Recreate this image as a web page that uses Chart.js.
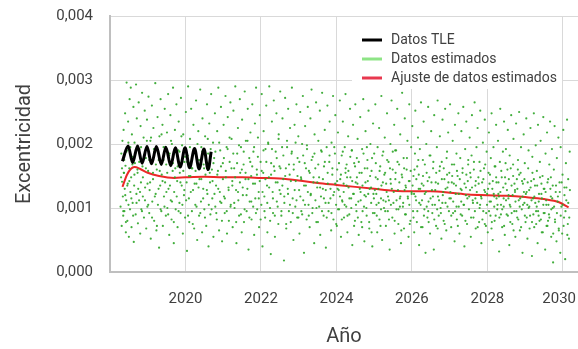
<!DOCTYPE html>
<html>
<head>
<meta charset="utf-8">
<script src="https://cdn.jsdelivr.net/npm/chart.js@4/dist/chart.umd.min.js"></script>
<style>
  html, body { margin: 0; background: #fff; overflow: hidden; }
  canvas { display: block; }
</style>
</head>
<body>
<canvas id="myChart" width="582" height="349"></canvas>
<script>
var FONT = "Roboto, 'Liberation Sans', sans-serif";
var TXT = '#404040';

// ticks of the x axis (years) and y axis
var yearTicks = [2020, 2022, 2024, 2026, 2028, 2030];
var eccTicks = [0, 0.001, 0.002, 0.003, 0.004];

var tleYear = [2018.33, 2018.48, 2018.60, 2018.73, 2018.85, 2018.98, 2019.10, 2019.23, 2019.36, 2019.48,
               2019.61, 2019.73, 2019.86, 2019.99, 2020.11, 2020.24, 2020.36, 2020.49, 2020.60, 2020.68];
var tleEcc  = [0.00173, 0.00197, 0.00171, 0.00197, 0.00170, 0.00196, 0.00169, 0.00196, 0.00168, 0.00195,
               0.00166, 0.00194, 0.00164, 0.00194, 0.00163, 0.00193, 0.00161, 0.00192, 0.00160, 0.00188];

// Ajuste de datos estimados (red fit)
var fitYear = [2018.33, 2018.45, 2018.55, 2018.65, 2018.80, 2019.00, 2019.30, 2019.70, 2020.00, 2020.50,
               2021.00, 2021.50, 2022.00, 2022.50, 2023.00, 2023.50, 2024.00, 2024.50, 2025.00, 2025.50,
               2026.00, 2026.50, 2027.00, 2027.50, 2028.00, 2028.50, 2029.00, 2029.50, 2029.90, 2030.15];
var fitEcc  = [0.00133, 0.00152, 0.00161, 0.00164, 0.00161, 0.00155, 0.00150, 0.00147, 0.00148, 0.00149,
               0.00148, 0.00148, 0.00147, 0.00146, 0.00143, 0.00139, 0.00136, 0.00133, 0.00130, 0.00127,
               0.00126, 0.00126, 0.00124, 0.00121, 0.00120, 0.00119, 0.00117, 0.00114, 0.00109, 0.00101];

// Datos estimados (green dots) [year, eccentricity] - full spread
var estimadosA = [
[2018.28,0.00102],[2018.30,0.00185],[2018.31,0.00072],[2018.32,0.00141],[2018.33,0.00205],[2018.34,0.00118],[2018.35,0.00088],[2018.36,0.00222],[2018.37,0.00155],[2018.38,0.00095],[2018.39,0.00130],[2018.40,0.00248],[2018.41,0.00166],[2018.42,0.00062],[2018.43,0.00112],[2018.44,0.00296],[2018.45,0.00190],[2018.46,0.00080],[2018.47,0.00138],[2018.48,0.00235],[2018.49,0.00105],[2018.50,0.00055],
[2018.51,0.00162],[2018.52,0.00270],[2018.53,0.00098],[2018.54,0.00125],[2018.55,0.00288],[2018.56,0.00148],[2018.57,0.00070],[2018.58,0.00215],[2018.59,0.00180],[2018.60,0.00108],[2018.62,0.00258],[2018.63,0.00047],[2018.64,0.00135],[2018.65,0.00202],[2018.66,0.00170],[2018.68,0.00090],[2018.69,0.00293],[2018.70,0.00122],[2018.71,0.00240],[2018.73,0.00155],[2018.74,0.00076],
[2018.76,0.00265],[2018.77,0.00112],[2018.78,0.00192],[2018.80,0.00060],[2018.81,0.00228],[2018.82,0.00140],[2018.83,0.00098],[2018.85,0.00280],[2018.86,0.00165],[2018.87,0.00118],[2018.89,0.00210],[2018.90,0.00085],[2018.92,0.00252],[2018.93,0.00132],[2018.95,0.00178],[2018.96,0.00068],[2018.98,0.00238],[2018.99,0.00102],
[2019.01,0.00158],[2019.02,0.00274],[2019.04,0.00092],[2019.05,0.00128],[2019.07,0.00205],[2019.08,0.00052],[2019.09,0.00170],[2019.11,0.00260],[2019.12,0.00110],[2019.14,0.00145],[2019.15,0.00225],[2019.17,0.00080],[2019.18,0.00188],[2019.20,0.00295],[2019.21,0.00122],[2019.23,0.00065],[2019.24,0.00160],
[2019.26,0.00242],[2019.27,0.00105],[2019.29,0.00175],[2019.30,0.00038],[2019.31,0.00212],[2019.33,0.00135],[2019.34,0.00270],[2019.36,0.00095],[2019.37,0.00152],[2019.39,0.00230],[2019.40,0.00072],[2019.42,0.00195],[2019.43,0.00118],[2019.45,0.00255],[2019.46,0.00140],[2019.48,0.00088],[2019.49,0.00168],
[2019.51,0.00218],[2019.52,0.00100],[2019.54,0.00278],[2019.55,0.00130],[2019.57,0.00058],[2019.58,0.00185],[2019.60,0.00245],[2019.61,0.00112],[2019.63,0.00082],[2019.64,0.00200],[2019.66,0.00158],[2019.67,0.00288],[2019.69,0.00045],[2019.70,0.00125],[2019.72,0.00222],[2019.73,0.00162],[2019.74,0.00098],
[2019.76,0.00262],[2019.78,0.00142],[2019.79,0.00070],[2019.81,0.00190],[2019.82,0.00235],[2019.84,0.00108],[2019.85,0.00155],[2019.87,0.00092],[2019.88,0.00272],[2019.90,0.00135],[2019.91,0.00198],[2019.93,0.00060],[2019.94,0.00215],[2019.96,0.00120],[2019.97,0.00172],[2019.99,0.00085],
[2020.01,0.00250],[2020.03,0.00140],[2020.04,0.00033],[2020.06,0.00182],[2020.07,0.00290],[2020.09,0.00115],[2020.10,0.00078],[2020.12,0.00208],[2020.13,0.00150],[2020.15,0.00255],[2020.17,0.00095],[2020.18,0.00162],[2020.20,0.00128],[2020.21,0.00230],[2020.23,0.00068],[2020.24,0.00192],
[2020.26,0.00105],[2020.28,0.00268],[2020.29,0.00138],[2020.31,0.00050],[2020.33,0.00175],[2020.34,0.00220],[2020.36,0.00088],[2020.37,0.00145],[2020.39,0.00285],[2020.41,0.00110],[2020.42,0.00195],[2020.44,0.00062],[2020.45,0.00240],[2020.47,0.00130],[2020.48,0.00168],[2020.50,0.00098],
[2020.52,0.00212],[2020.53,0.00152],[2020.55,0.00072],[2020.57,0.00262],[2020.58,0.00122],[2020.60,0.00185],[2020.61,0.00040],[2020.63,0.00232],[2020.65,0.00140],[2020.66,0.00090],[2020.68,0.00278],[2020.70,0.00160],[2020.71,0.00115],[2020.73,0.00202],[2020.74,0.00055],
[2020.76,0.00178],[2020.78,0.00248],[2020.79,0.00102],[2020.81,0.00135],[2020.83,0.00082],[2020.84,0.00220],[2020.86,0.00158],[2020.87,0.00288],[2020.89,0.00065],[2020.91,0.00125],[2020.92,0.00190],[2020.94,0.00258],[2020.95,0.00108],[2020.97,0.00048],[2020.99,0.00170],
[2021.01,0.00230],[2021.02,0.00118],[2021.04,0.00092],[2021.06,0.00275],[2021.07,0.00148],[2021.09,0.00195],[2021.10,0.00060],[2021.12,0.00242],[2021.14,0.00132],[2021.15,0.00080],[2021.17,0.00172],[2021.19,0.00265],[2021.20,0.00105],[2021.22,0.00208],[2021.24,0.00142],
[2021.25,0.00070],[2021.27,0.00252],[2021.29,0.00162],[2021.30,0.00100],[2021.32,0.00290],[2021.34,0.00128],[2021.35,0.00045],[2021.37,0.00185],[2021.39,0.00225],[2021.40,0.00112],[2021.42,0.00088],[2021.44,0.00270],[2021.45,0.00155],[2021.47,0.00195],[2021.49,0.00062],
[2021.50,0.00238],[2021.52,0.00120],[2021.54,0.00168],[2021.55,0.00078],[2021.57,0.00282],[2021.59,0.00145],[2021.60,0.00205],[2021.62,0.00095],[2021.64,0.00130],[2021.65,0.00255],[2021.67,0.00035],[2021.69,0.00178],[2021.70,0.00110],[2021.72,0.00218],[2021.74,0.00150],
[2021.75,0.00082],[2021.77,0.00262],[2021.79,0.00138],[2021.80,0.00188],[2021.82,0.00058],[2021.84,0.00232],[2021.85,0.00115],[2021.87,0.00288],[2021.89,0.00160],[2021.90,0.00098],[2021.92,0.00210],[2021.94,0.00125],[2021.95,0.00070],[2021.97,0.00245],[2021.99,0.00172],
[2022.01,0.00105],[2022.02,0.00278],[2022.04,0.00040],[2022.06,0.00155],[2022.07,0.00220],[2022.09,0.00118],[2022.11,0.00085],[2022.12,0.00192],[2022.14,0.00260],[2022.16,0.00135],[2022.17,0.00062],[2022.19,0.00202],[2022.21,0.00148],[2022.22,0.00290],[2022.24,0.00100],
[2022.26,0.00028],[2022.27,0.00170],[2022.29,0.00235],[2022.31,0.00125],[2022.32,0.00092],[2022.34,0.00268],[2022.36,0.00158],[2022.37,0.00055],[2022.39,0.00188],[2022.41,0.00248],[2022.42,0.00110],[2022.44,0.00140],[2022.46,0.00075],[2022.47,0.00215],[2022.49,0.00165],
[2022.51,0.00282],[2022.52,0.00122],[2022.54,0.00088],[2022.56,0.00195],[2022.57,0.00240],[2022.59,0.00145],[2022.61,0.00018],[2022.62,0.00108],[2022.64,0.00272],[2022.66,0.00162],[2022.67,0.00068],[2022.69,0.00205],[2022.71,0.00130],[2022.72,0.00255],[2022.74,0.00095],
[2022.76,0.00152],[2022.77,0.00225],[2022.79,0.00078],[2022.81,0.00185],[2022.82,0.00288],[2022.84,0.00115],[2022.86,0.00050],[2022.87,0.00168],[2022.89,0.00230],[2022.91,0.00102],[2022.92,0.00142],[2022.94,0.00262],[2022.96,0.00085],[2022.97,0.00178],[2022.99,0.00212],
[2023.01,0.00128],[2023.02,0.00060],[2023.04,0.00250],[2023.06,0.00148],[2023.07,0.00095],[2023.09,0.00200],[2023.11,0.00275],[2023.12,0.00112],[2023.14,0.00030],[2023.16,0.00170],[2023.17,0.00228],[2023.19,0.00135],[2023.21,0.00082],[2023.22,0.00192],[2023.24,0.00258],
[2023.26,0.00105],[2023.27,0.00158],[2023.29,0.00070],[2023.31,0.00240],[2023.32,0.00122],[2023.34,0.00285],[2023.36,0.00092],[2023.37,0.00180],[2023.39,0.00140],[2023.41,0.00045],[2023.42,0.00215],[2023.44,0.00162],[2023.46,0.00265],[2023.47,0.00100],[2023.49,0.00132],
[2023.51,0.00078],[2023.52,0.00205],[2023.54,0.00148],[2023.56,0.00252],[2023.57,0.00058],[2023.59,0.00118],[2023.61,0.00188],[2023.62,0.00280],[2023.64,0.00130],[2023.66,0.00088],[2023.67,0.00165],[2023.69,0.00222],[2023.71,0.00108],[2023.72,0.00038],[2023.74,0.00195],
[2023.76,0.00260],[2023.77,0.00138],[2023.79,0.00095],[2023.81,0.00172],[2023.82,0.00235],[2023.84,0.00115],[2023.86,0.00065],[2023.87,0.00202],[2023.89,0.00152],[2023.91,0.00275],[2023.92,0.00082],[2023.94,0.00125],[2023.96,0.00185],[2023.97,0.00245],[2023.99,0.00105],
[2024.01,0.00072],[2024.02,0.00160],[2024.04,0.00218],[2024.06,0.00128],[2024.07,0.00098],[2024.09,0.00268],[2024.10,0.00145],[2024.12,0.00055],[2024.14,0.00182],[2024.15,0.00112],[2024.17,0.00235],[2024.19,0.00138],[2024.20,0.00085],[2024.22,0.00195],[2024.24,0.00155],[2024.24,0.00278],
[2024.26,0.00102],[2024.27,0.00168],[2024.29,0.00062],[2024.31,0.00212],[2024.32,0.00132],[2024.34,0.00090],[2024.36,0.00255],[2024.37,0.00148],[2024.39,0.00115],[2024.41,0.00190],[2024.42,0.00042],[2024.44,0.00230],[2024.46,0.00122],[2024.47,0.00170],[2024.49,0.00080],[2024.50,0.00262],
[2024.51,0.00140],[2024.53,0.00095],[2024.54,0.00178],[2024.56,0.00208],[2024.58,0.00110],[2024.59,0.00058],[2024.61,0.00155],[2024.63,0.00242],[2024.64,0.00125],[2024.66,0.00078],[2024.68,0.00192],[2024.69,0.00135],[2024.71,0.00270],[2024.73,0.00102],[2024.74,0.00048],[2024.75,0.00162],
[2024.77,0.00220],[2024.78,0.00118],[2024.80,0.00088],[2024.82,0.00175],[2024.83,0.00142],[2024.85,0.00252],[2024.87,0.00068],[2024.88,0.00130],[2024.90,0.00200],[2024.92,0.00108],[2024.93,0.00158],[2024.95,0.00040],[2024.97,0.00232],[2024.98,0.00122],[2025.00,0.00185],
[2025.01,0.00092],[2025.03,0.00262],[2025.04,0.00148],[2025.06,0.00105],[2025.08,0.00062],[2025.09,0.00195],[2025.11,0.00130],[2025.13,0.00225],[2025.14,0.00082],[2025.16,0.00165],[2025.18,0.00115],[2025.19,0.00275],[2025.21,0.00050],[2025.23,0.00140],[2025.24,0.00188],
[2025.26,0.00100],[2025.28,0.00210],[2025.29,0.00155],[2025.31,0.00072],[2025.33,0.00125],[2025.34,0.00248],[2025.36,0.00095],[2025.38,0.00172],[2025.39,0.00112],[2025.41,0.00035],[2025.43,0.00200],[2025.44,0.00138],[2025.46,0.00268],[2025.48,0.00085],[2025.49,0.00160],
[2025.51,0.00108],[2025.53,0.00230],[2025.54,0.00060],[2025.56,0.00145],[2025.58,0.00190],[2025.59,0.00098],[2025.61,0.00255],[2025.63,0.00128],[2025.64,0.00075],[2025.66,0.00168],[2025.68,0.00115],[2025.69,0.00215],[2025.71,0.00045],[2025.73,0.00152],[2025.74,0.00280],
[2025.76,0.00102],[2025.78,0.00178],[2025.79,0.00068],[2025.81,0.00240],[2025.83,0.00135],[2025.84,0.00090],[2025.86,0.00160],[2025.88,0.00205],[2025.89,0.00118],[2025.91,0.00055],[2025.93,0.00262],[2025.94,0.00142],[2025.96,0.00080],[2025.98,0.00195],[2025.99,0.00125],
[2026.01,0.00228],[2026.03,0.00095],[2026.04,0.00150],[2026.06,0.00062],[2026.08,0.00185],[2026.09,0.00252],[2026.11,0.00112],[2026.13,0.00078],[2026.14,0.00165],[2026.16,0.00210],[2026.18,0.00130],[2026.19,0.00042],[2026.21,0.00192],[2026.23,0.00105],[2026.24,0.00265],
[2026.26,0.00138],[2026.28,0.00070],[2026.29,0.00175],[2026.31,0.00235],[2026.33,0.00098],[2026.34,0.00122],[2026.36,0.00030],[2026.38,0.00200],[2026.39,0.00155],[2026.41,0.00085],[2026.43,0.00258],[2026.44,0.00110],[2026.46,0.00148],[2026.48,0.00060],[2026.49,0.00182],
[2026.51,0.00220],[2026.53,0.00128],[2026.54,0.00092],[2026.56,0.00162],[2026.58,0.00035],[2026.59,0.00245],[2026.61,0.00105],[2026.63,0.00140],[2026.64,0.00072],[2026.66,0.00195],[2026.68,0.00268],[2026.69,0.00118],[2026.71,0.00088],[2026.73,0.00158],[2026.74,0.00212],
[2026.76,0.00100],[2026.78,0.00052],[2026.79,0.00172],[2026.81,0.00238],[2026.83,0.00125],[2026.84,0.00080],[2026.86,0.00145],[2026.88,0.00255],[2026.89,0.00108],[2026.91,0.00065],[2026.93,0.00188],[2026.94,0.00132],[2026.96,0.00218],[2026.98,0.00095],[2026.99,0.00155],
[2027.01,0.00262],[2027.03,0.00115],[2027.04,0.00070],[2027.06,0.00168],[2027.08,0.00205],[2027.09,0.00092],[2027.11,0.00138],[2027.13,0.00048],[2027.14,0.00230],[2027.16,0.00122],[2027.18,0.00185],[2027.19,0.00082],[2027.21,0.00150],[2027.23,0.00248],[2027.24,0.00102],
[2027.26,0.00060],[2027.28,0.00178],[2027.29,0.00130],[2027.31,0.00220],[2027.33,0.00088],[2027.34,0.00155],[2027.36,0.00258],[2027.38,0.00105],[2027.39,0.00040],[2027.41,0.00192],[2027.43,0.00120],[2027.44,0.00235],[2027.46,0.00075],[2027.48,0.00142],[2027.49,0.00168],
[2027.51,0.00098],[2027.53,0.00210],[2027.54,0.00128],[2027.56,0.00055],[2027.58,0.00182],[2027.59,0.00245],[2027.61,0.00112],[2027.63,0.00085],[2027.64,0.00160],[2027.66,0.00265],[2027.68,0.00135],[2027.69,0.00068],[2027.71,0.00195],[2027.73,0.00108],[2027.74,0.00225],
[2027.76,0.00148],[2027.78,0.00078],[2027.79,0.00172],[2027.81,0.00252],[2027.83,0.00118],[2027.84,0.00045],[2027.86,0.00140],[2027.88,0.00202],[2027.89,0.00095],[2027.91,0.00162],[2027.93,0.00238],[2027.94,0.00125],[2027.96,0.00072],[2027.98,0.00188],[2027.99,0.00105],
[2028.01,0.00062],[2028.03,0.00155],[2028.04,0.00218],[2028.06,0.00110],[2028.08,0.00088],[2028.09,0.00178],[2028.11,0.00248],[2028.13,0.00130],[2028.14,0.00050],[2028.16,0.00195],[2028.18,0.00118],[2028.19,0.00080],[2028.21,0.00165],[2028.23,0.00230],[2028.24,0.00140],
[2028.26,0.00098],[2028.28,0.00205],[2028.29,0.00122],[2028.31,0.00032],[2028.33,0.00172],[2028.34,0.00255],[2028.36,0.00105],[2028.38,0.00148],[2028.39,0.00070],[2028.41,0.00188],[2028.43,0.00115],[2028.44,0.00235],[2028.46,0.00058],[2028.48,0.00138],[2028.49,0.00192],
[2028.51,0.00090],[2028.53,0.00160],[2028.54,0.00222],[2028.56,0.00120],[2028.58,0.00042],[2028.59,0.00182],[2028.61,0.00102],[2028.63,0.00245],[2028.64,0.00135],[2028.66,0.00075],[2028.68,0.00168],[2028.69,0.00208],[2028.71,0.00095],[2028.73,0.00128],[2028.74,0.00055],
[2028.76,0.00232],[2028.78,0.00145],[2028.79,0.00085],[2028.81,0.00175],[2028.83,0.00112],[2028.84,0.00250],[2028.86,0.00065],[2028.88,0.00155],[2028.89,0.00195],[2028.91,0.00098],[2028.93,0.00030],[2028.94,0.00138],[2028.96,0.00215],[2028.98,0.00108],[2028.99,0.00170],
[2029.01,0.00078],[2029.03,0.00240],[2029.04,0.00125],[2029.06,0.00052],[2029.08,0.00162],[2029.09,0.00190],[2029.11,0.00102],[2029.13,0.00088],[2029.14,0.00225],[2029.16,0.00142],[2029.18,0.00025],[2029.19,0.00180],[2029.21,0.00115],[2029.23,0.00248],[2029.24,0.00070],
[2029.26,0.00135],[2029.28,0.00198],[2029.29,0.00095],[2029.31,0.00158],[2029.33,0.00045],[2029.34,0.00230],[2029.36,0.00110],[2029.38,0.00080],[2029.39,0.00172],[2029.41,0.00205],[2029.43,0.00122],[2029.44,0.00062],[2029.46,0.00150],[2029.48,0.00242],[2029.49,0.00092],
[2029.51,0.00130],[2029.53,0.00035],[2029.54,0.00185],[2029.56,0.00105],[2029.58,0.00218],[2029.59,0.00072],[2029.61,0.00145],[2029.63,0.00090],[2029.64,0.00168],[2029.66,0.00235],[2029.68,0.00118],[2029.69,0.00055],[2029.71,0.00192],[2029.73,0.00100],[2029.74,0.00015],
[2029.76,0.00160],[2029.78,0.00228],[2029.79,0.00082],[2029.81,0.00125],[2029.83,0.00048],[2029.84,0.00178],[2029.86,0.00110],[2029.88,0.00210],[2029.89,0.00068],[2029.91,0.00140],[2029.93,0.00030],[2029.94,0.00195],[2029.96,0.00102],[2029.98,0.00060],[2029.99,0.00152],
[2030.01,0.00222],[2030.03,0.00085],[2030.04,0.00132],[2030.06,0.00020],[2030.08,0.00170],[2030.09,0.00112],[2030.11,0.00238],[2030.13,0.00075],[2030.14,0.00145],[2030.16,0.00052],[2030.18,0.00188]
];

// Datos estimados - denser central band
var estimadosB = [
[2018.293,0.00148],[2018.318,0.00162],[2018.352,0.00095],[2018.377,0.00175],[2018.404,0.00120],[2018.433,0.00188],[2018.458,0.00135],[2018.487,0.00202],[2018.366,0.00155],[2018.421,0.00078],
[2018.512,0.00142],[2018.538,0.00195],[2018.566,0.00115],[2018.594,0.00168],[2018.613,0.00088],[2018.647,0.00152],[2018.672,0.00185],[2018.703,0.00108],[2018.727,0.00160],[2018.748,0.00130],
[2018.774,0.00172],[2018.796,0.00125],[2018.823,0.00195],[2018.847,0.00095],[2018.872,0.00148],[2018.903,0.00180],[2018.927,0.00112],[2018.951,0.00162],[2018.977,0.00205],[2018.994,0.00138],
[2019.013,0.00105],[2019.038,0.00175],[2019.062,0.00140],[2019.087,0.00210],[2019.114,0.00085],[2019.139,0.00155],[2019.163,0.00192],[2019.188,0.00118],[2019.216,0.00168],[2019.243,0.00072],
[2019.266,0.00188],[2019.287,0.00130],[2019.318,0.00158],[2019.341,0.00098],[2019.366,0.00215],[2019.392,0.00142],[2019.417,0.00175],[2019.443,0.00102],[2019.468,0.00195],[2019.494,0.00125],
[2019.516,0.00155],[2019.541,0.00090],[2019.567,0.00182],[2019.589,0.00135],[2019.617,0.00205],[2019.643,0.00110],[2019.668,0.00170],[2019.691,0.00078],[2019.718,0.00148],[2019.744,0.00192],
[2019.768,0.00118],[2019.793,0.00165],[2019.817,0.00095],[2019.843,0.00188],[2019.866,0.00140],[2019.892,0.00212],[2019.918,0.00105],[2019.942,0.00158],[2019.968,0.00128],[2019.991,0.00180],
[2020.017,0.00112],[2020.043,0.00172],[2020.068,0.00088],[2020.092,0.00150],[2020.118,0.00195],[2020.141,0.00125],[2020.166,0.00162],[2020.193,0.00075],[2020.219,0.00185],[2020.242,0.00138],
[2020.267,0.00158],[2020.293,0.00102],[2020.318,0.00200],[2020.346,0.00132],[2020.371,0.00175],[2020.393,0.00092],[2020.419,0.00145],[2020.443,0.00188],[2020.468,0.00115],[2020.493,0.00162],
[2020.516,0.00085],[2020.542,0.00178],[2020.566,0.00128],[2020.591,0.00208],[2020.618,0.00105],[2020.643,0.00155],[2020.668,0.00192],[2020.693,0.00098],[2020.717,0.00142],[2020.741,0.00170],
[2020.768,0.00122],[2020.792,0.00188],[2020.816,0.00092],[2020.843,0.00152],[2020.868,0.00130],[2020.893,0.00202],[2020.917,0.00110],[2020.941,0.00165],[2020.966,0.00080],[2020.992,0.00145],
[2021.018,0.00178],[2021.043,0.00115],[2021.068,0.00158],[2021.093,0.00095],[2021.117,0.00192],[2021.143,0.00128],[2021.168,0.00210],[2021.193,0.00102],[2021.218,0.00162],[2021.241,0.00135],
[2021.266,0.00185],[2021.291,0.00108],[2021.316,0.00148],[2021.343,0.00078],[2021.367,0.00170],[2021.392,0.00125],[2021.418,0.00198],[2021.442,0.00140],[2021.468,0.00090],[2021.493,0.00160],
[2021.517,0.00132],[2021.543,0.00188],[2021.566,0.00098],[2021.592,0.00155],[2021.617,0.00120],[2021.643,0.00205],[2021.668,0.00145],[2021.693,0.00085],[2021.717,0.00172],[2021.743,0.00110],
[2021.768,0.00165],[2021.793,0.00102],[2021.818,0.00195],[2021.842,0.00138],[2021.867,0.00092],[2021.893,0.00152],[2021.918,0.00180],[2021.942,0.00115],[2021.967,0.00142],[2021.991,0.00082],
[2022.018,0.00158],[2022.042,0.00125],[2022.067,0.00190],[2022.093,0.00095],[2022.118,0.00145],[2022.142,0.00172],[2022.167,0.00108],[2022.193,0.00200],[2022.217,0.00132],[2022.243,0.00080],
[2022.268,0.00152],[2022.292,0.00192],[2022.317,0.00115],[2022.343,0.00165],[2022.367,0.00088],[2022.392,0.00140],[2022.418,0.00178],[2022.443,0.00102],[2022.467,0.00208],[2022.492,0.00128],
[2022.517,0.00162],[2022.542,0.00095],[2022.567,0.00135],[2022.593,0.00182],[2022.618,0.00118],[2022.642,0.00150],[2022.668,0.00075],[2022.692,0.00195],[2022.717,0.00122],[2022.743,0.00168],
[2022.768,0.00105],[2022.792,0.00142],[2022.818,0.00188],[2022.843,0.00092],[2022.867,0.00160],[2022.893,0.00128],[2022.917,0.00202],[2022.942,0.00112],[2022.968,0.00150],[2022.992,0.00085],
[2023.017,0.00172],[2023.043,0.00118],[2023.067,0.00145],[2023.092,0.00090],[2023.118,0.00182],[2023.142,0.00135],[2023.167,0.00105],[2023.193,0.00162],[2023.218,0.00198],[2023.242,0.00125],
[2023.267,0.00088],[2023.292,0.00155],[2023.317,0.00120],[2023.342,0.00175],[2023.368,0.00100],[2023.393,0.00148],[2023.417,0.00185],[2023.443,0.00112],[2023.467,0.00078],[2023.492,0.00140],
[2023.518,0.00168],[2023.542,0.00102],[2023.567,0.00132],[2023.593,0.00190],[2023.617,0.00095],[2023.642,0.00145],[2023.668,0.00115],[2023.692,0.00172],[2023.717,0.00128],[2023.742,0.00085],
[2023.767,0.00155],[2023.793,0.00108],[2023.817,0.00182],[2023.842,0.00130],[2023.868,0.00092],[2023.892,0.00162],[2023.917,0.00120],[2023.942,0.00195],[2023.967,0.00138],[2023.993,0.00075],
[2024.018,0.00142],[2024.042,0.00098],[2024.067,0.00170],[2024.093,0.00118],[2024.118,0.00152],[2024.142,0.00082],[2024.168,0.00188],[2024.192,0.00125],[2024.217,0.00105],[2024.243,0.00162],[2024.031,0.00130],[2024.158,0.00110],
[2024.268,0.00135],[2024.292,0.00088],[2024.317,0.00158],[2024.343,0.00115],[2024.367,0.00180],[2024.392,0.00100],[2024.418,0.00142],[2024.442,0.00122],[2024.467,0.00072],[2024.493,0.00165],[2024.281,0.00148],[2024.405,0.00190],
[2024.517,0.00105],[2024.542,0.00148],[2024.567,0.00085],[2024.592,0.00172],[2024.618,0.00130],[2024.642,0.00112],[2024.668,0.00155],[2024.693,0.00095],[2024.717,0.00185],[2024.742,0.00120],[2024.556,0.00138],[2024.681,0.00070],
[2024.768,0.00140],[2024.793,0.00100],[2024.818,0.00162],[2024.842,0.00122],[2024.867,0.00078],[2024.892,0.00150],[2024.917,0.00132],[2024.943,0.00178],[2024.967,0.00092],[2024.992,0.00115],[2024.806,0.00195],[2024.931,0.00062],
[2025.017,0.00128],[2025.043,0.00170],[2025.068,0.00088],[2025.092,0.00145],[2025.118,0.00108],[2025.143,0.00158],[2025.167,0.00072],[2025.192,0.00135],[2025.218,0.00182],[2025.242,0.00112],[2025.056,0.00122],[2025.181,0.00098],
[2025.268,0.00152],[2025.292,0.00095],[2025.317,0.00138],[2025.343,0.00175],[2025.367,0.00118],[2025.392,0.00082],[2025.418,0.00162],[2025.443,0.00105],[2025.467,0.00130],[2025.492,0.00188],[2025.306,0.00110],[2025.431,0.00145],
[2025.517,0.00125],[2025.543,0.00080],[2025.567,0.00155],[2025.592,0.00112],[2025.618,0.00172],[2025.642,0.00098],[2025.667,0.00140],[2025.693,0.00118],[2025.718,0.00065],[2025.742,0.00148],[2025.556,0.00190],[2025.681,0.00102],
[2025.768,0.00108],[2025.793,0.00162],[2025.817,0.00090],[2025.842,0.00132],[2025.868,0.00178],[2025.893,0.00115],[2025.918,0.00142],[2025.942,0.00075],[2025.967,0.00158],[2025.992,0.00122],[2025.806,0.00128],[2025.931,0.00105],
[2026.018,0.00135],[2026.042,0.00085],[2026.068,0.00160],[2026.093,0.00118],[2026.117,0.00145],[2026.143,0.00095],[2026.168,0.00175],[2026.193,0.00108],[2026.218,0.00130],[2026.242,0.00070],[2026.056,0.00122],[2026.181,0.00152],
[2026.267,0.00112],[2026.293,0.00150],[2026.318,0.00088],[2026.342,0.00168],[2026.368,0.00125],[2026.392,0.00102],[2026.417,0.00142],[2026.443,0.00078],[2026.468,0.00182],[2026.493,0.00115],[2026.306,0.00135],[2026.431,0.00095],
[2026.518,0.00140],[2026.542,0.00105],[2026.567,0.00172],[2026.592,0.00082],[2026.617,0.00128],[2026.643,0.00155],[2026.668,0.00098],[2026.693,0.00138],[2026.718,0.00112],[2026.742,0.00165],[2026.556,0.00118],[2026.681,0.00068],
[2026.767,0.00092],[2026.792,0.00145],[2026.818,0.00120],[2026.843,0.00162],[2026.868,0.00075],[2026.892,0.00130],[2026.918,0.00178],[2026.942,0.00102],[2026.967,0.00140],[2026.993,0.00115],[2026.806,0.00108],[2026.931,0.00152],
[2027.018,0.00125],[2027.042,0.00088],[2027.067,0.00150],[2027.093,0.00110],[2027.118,0.00168],[2027.143,0.00095],[2027.168,0.00135],[2027.193,0.00158],[2027.217,0.00072],[2027.243,0.00122],[2027.056,0.00140],[2027.181,0.00102],
[2027.268,0.00145],[2027.292,0.00090],[2027.318,0.00128],[2027.342,0.00162],[2027.367,0.00105],[2027.393,0.00138],[2027.417,0.00080],[2027.442,0.00152],[2027.468,0.00115],[2027.492,0.00175],[2027.306,0.00110],[2027.431,0.00132],
[2027.517,0.00118],[2027.543,0.00155],[2027.567,0.00085],[2027.592,0.00132],[2027.617,0.00108],[2027.643,0.00172],[2027.668,0.00095],[2027.692,0.00142],[2027.718,0.00125],[2027.742,0.00070],[2027.556,0.00148],[2027.681,0.00115],
[2027.768,0.00138],[2027.793,0.00100],[2027.817,0.00158],[2027.842,0.00115],[2027.867,0.00082],[2027.893,0.00145],[2027.918,0.00128],[2027.942,0.00168],[2027.967,0.00092],[2027.992,0.00122],[2027.806,0.00105],[2027.931,0.00075],
[2028.017,0.00130],[2028.042,0.00095],[2028.068,0.00152],[2028.093,0.00110],[2028.117,0.00078],[2028.143,0.00142],[2028.167,0.00122],[2028.192,0.00165],[2028.218,0.00088],[2028.242,0.00115],[2028.056,0.00138],[2028.181,0.00102],[2028.108,0.00068],[2028.231,0.00148],
[2028.268,0.00105],[2028.292,0.00140],[2028.317,0.00085],[2028.343,0.00125],[2028.367,0.00158],[2028.392,0.00098],[2028.418,0.00132],[2028.442,0.00072],[2028.467,0.00148],[2028.493,0.00112],[2028.306,0.00118],[2028.431,0.00102],[2028.358,0.00090],[2028.481,0.00170],
[2028.517,0.00128],[2028.542,0.00088],[2028.567,0.00145],[2028.592,0.00105],[2028.617,0.00162],[2028.642,0.00092],[2028.668,0.00120],[2028.693,0.00065],[2028.717,0.00138],[2028.743,0.00110],[2028.556,0.00115],[2028.681,0.00150],[2028.606,0.00078],[2028.731,0.00125],
[2028.767,0.00095],[2028.793,0.00130],[2028.818,0.00082],[2028.842,0.00152],[2028.868,0.00115],[2028.892,0.00070],[2028.917,0.00142],[2028.943,0.00105],[2028.967,0.00125],[2028.992,0.00088],[2028.806,0.00160],[2028.931,0.00118],[2028.856,0.00102],[2028.981,0.00145],
[2029.018,0.00122],[2029.042,0.00085],[2029.067,0.00140],[2029.092,0.00100],[2029.118,0.00068],[2029.143,0.00132],[2029.168,0.00112],[2029.193,0.00155],[2029.217,0.00090],[2029.243,0.00118],[2029.056,0.00105],[2029.181,0.00078],[2029.106,0.00128],[2029.231,0.00145],
[2029.268,0.00108],[2029.292,0.00075],[2029.318,0.00135],[2029.342,0.00095],[2029.367,0.00122],[2029.393,0.00148],[2029.417,0.00082],[2029.442,0.00115],[2029.468,0.00062],[2029.492,0.00130],[2029.306,0.00102],[2029.431,0.00138],[2029.356,0.00088],[2029.481,0.00105],
[2029.517,0.00092],[2029.542,0.00125],[2029.567,0.00072],[2029.592,0.00140],[2029.617,0.00105],[2029.642,0.00085],[2029.668,0.00130],[2029.692,0.00098],[2029.717,0.00115],[2029.743,0.00060],[2029.556,0.00112],[2029.681,0.00148],[2029.606,0.00080],[2029.731,0.00135],
[2029.767,0.00102],[2029.792,0.00078],[2029.817,0.00135],[2029.842,0.00092],[2029.868,0.00118],[2029.892,0.00065],[2029.917,0.00125],[2029.942,0.00088],[2029.967,0.00140],[2029.992,0.00105],[2030.018,0.00072],[2030.042,0.00120],[2030.068,0.00095],[2030.093,0.00132],[2030.117,0.00058],[2030.142,0.00108],[2030.168,0.00085],[2030.186,0.00128]
];

function toPoints(xs, ys) {
  return xs.map(function (x, i) { return { x: x, y: ys[i] }; });
}
function pairsToPoints(arr) {
  return arr.map(function (p) { return { x: p[0], y: p[1] }; });
}

// legend drawn inside the plot, white box over the grid
var legendInPlot = {
  id: 'legendInPlot',
  afterDatasetsDraw: function (chart) {
    var ctx = chart.ctx;
    var ca = chart.chartArea;
    var x0 = ca.right - 226, y0 = ca.top + 1;
    ctx.save();
    ctx.fillStyle = '#ffffff';
    ctx.fillRect(x0, y0, 210, 72);
    ctx.font = '14px ' + FONT;
    ctx.textBaseline = 'middle';
    ctx.textAlign = 'left';
    chart.data.datasets.forEach(function (ds, i) {
      var yy = y0 + 23 + i * 19;
      ctx.strokeStyle = ds.legendColor;
      ctx.lineWidth = 3;
      ctx.beginPath();
      ctx.moveTo(x0 + 10, yy);
      ctx.lineTo(x0 + 30, yy);
      ctx.stroke();
      ctx.fillStyle = TXT;
      ctx.fillText(ds.label, x0 + 39, yy);
    });
    ctx.restore();
  }
};

function init_graph() {
  var ctx = document.getElementById('myChart');
  new Chart(ctx, {
    type: 'scatter',
    data: {
      datasets: [{
        label: 'Datos TLE',
        type: 'line',
        data: toPoints(tleYear, tleEcc),
        borderColor: '#000000',
        legendColor: '#000000',
        borderWidth: 3,
        pointRadius: 0,
        cubicInterpolationMode: 'monotone',
        fill: false
      }, {
        label: 'Datos estimados',
        data: pairsToPoints(estimadosA.concat(estimadosB)),
        backgroundColor: 'rgba(45,165,40,0.9)',
        borderWidth: 0,
        legendColor: '#8ee486',
        pointRadius: 1.1
      }, {
        label: 'Ajuste de datos estimados',
        type: 'line',
        data: toPoints(fitYear, fitEcc),
        borderColor: '#ec2828',
        legendColor: '#e8384f',
        borderWidth: 2,
        pointRadius: 0,
        cubicInterpolationMode: 'monotone',
        fill: false
      }]
    },
    options: {
      responsive: false,
      animation: false,
      layout: { padding: { top: 16, right: 0, bottom: 0, left: 0 } },
      plugins: { legend: { display: false }, tooltip: { enabled: false } },
      scales: {
        x: {
          type: 'linear',
          min: 2018,
          max: 2030.4,
          afterBuildTicks: function (s) { s.ticks = yearTicks.map(function (v) { return { value: v }; }); },
          afterFit: function (s) { s.height = 77; s.paddingLeft = 0; s.paddingRight = 0; },
          grid: { color: '#d9d9d9', lineWidth: 1, drawTicks: false },
          border: { color: '#bfbfbf', width: 2 },
          ticks: {
            padding: 18, color: TXT, maxRotation: 0,
            font: { family: FONT, size: 15 },
            // last label is pulled left so it stays inside the picture
            callback: function (v) { return v === 2030 ? '2030\u00a0\u00a0' : String(v); }
          },
          title: {
            display: true, text: 'Año', color: TXT,
            font: { family: FONT, size: 20 },
            padding: { top: 0, bottom: 0 }
          }
        },
        y: {
          min: 0,
          max: 0.004,
          afterBuildTicks: function (s) { s.ticks = eccTicks.map(function (v) { return { value: v }; }); },
          afterFit: function (s) { s.width = 110; s.paddingTop = 0; s.paddingBottom = 0; },
          grid: { color: '#d9d9d9', lineWidth: 1, drawTicks: false },
          border: { color: '#bfbfbf', width: 2 },
          ticks: {
            padding: 17, color: TXT,
            font: { family: FONT, size: 15 },
            callback: function (v) { return v.toFixed(3).replace('.', ','); }
          },
          title: {
            display: true, text: 'Excentricidad', color: TXT,
            font: { family: FONT, size: 20 },
            padding: { top: 13, bottom: 0 }
          }
        }
      }
    },
    plugins: [legendInPlot]
  });
}

init_graph();
</script>
</body>
</html>
